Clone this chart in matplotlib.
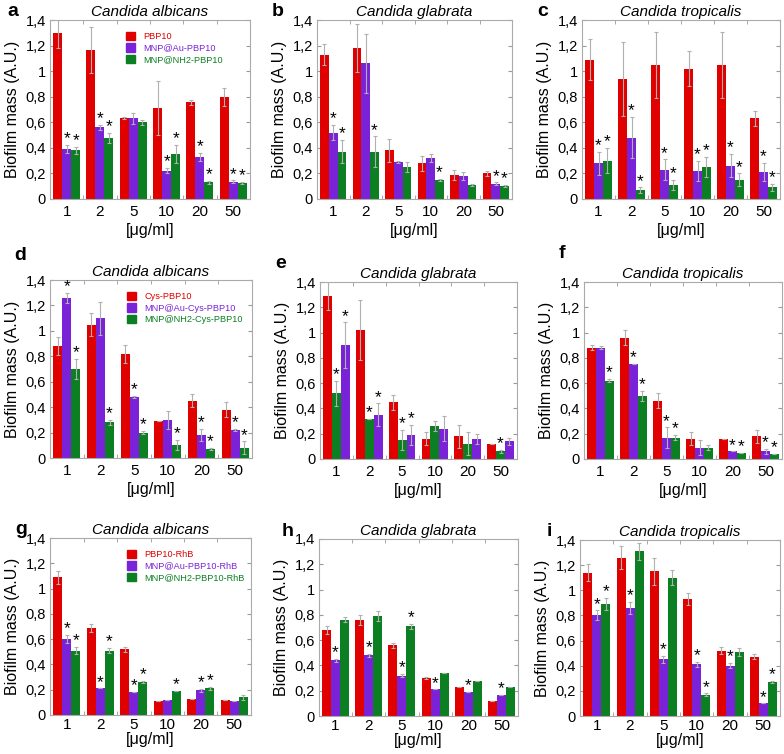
import numpy as np
import matplotlib
matplotlib.use("Agg")
import matplotlib.pyplot as plt
from matplotlib.patches import Patch

plt.rcParams['font.family'] = ['Liberation Sans', 'DejaVu Sans']

conc = ['1', '2', '5', '10', '20', '50']
yticks_lbl = ['0', '0,2', '0,4', '0,6', '0,8', '1', '1,2', '1,4']

RED = '#e00000'
PUR = '#7a22d8'
GRN = '#0b7f22'

# --- panel a: C. albicans, PBP10
a_red = [1.30, 1.165, 0.635, 0.71, 0.755, 0.80]
a_red_err = [0.12, 0.18, 0.01, 0.21, 0.02, 0.07]
a_pur = [0.39, 0.56, 0.63, 0.22, 0.33, 0.135]
a_pur_err = [0.03, 0.02, 0.04, 0.02, 0.03, 0.01]
a_grn = [0.38, 0.48, 0.60, 0.35, 0.13, 0.125]
a_grn_err = [0.03, 0.04, 0.02, 0.07, 0.01, 0.01]
a_pur_star = [1, 1, 0, 1, 1, 1]
a_grn_star = [1, 1, 0, 1, 1, 1]

# --- panel b: C. glabrata, PBP10
b_red = [1.13, 1.18, 0.38, 0.28, 0.19, 0.20]
b_red_err = [0.08, 0.19, 0.09, 0.06, 0.04, 0.02]
b_pur = [0.52, 1.06, 0.29, 0.32, 0.18, 0.12]
b_pur_err = [0.06, 0.23, 0.01, 0.03, 0.03, 0.01]
b_grn = [0.37, 0.37, 0.25, 0.15, 0.11, 0.10]
b_grn_err = [0.09, 0.12, 0.04, 0.01, 0.01, 0.01]
b_pur_star = [1, 0, 0, 0, 0, 1]
b_grn_star = [1, 1, 0, 1, 0, 1]

# --- panel c: C. tropicalis, PBP10
c_red = [1.09, 0.94, 1.05, 1.02, 1.05, 0.63]
c_red_err = [0.16, 0.29, 0.26, 0.14, 0.26, 0.06]
c_pur = [0.28, 0.48, 0.23, 0.22, 0.26, 0.21]
c_pur_err = [0.09, 0.16, 0.08, 0.08, 0.09, 0.07]
c_grn = [0.30, 0.07, 0.11, 0.25, 0.15, 0.09]
c_grn_err = [0.10, 0.02, 0.04, 0.08, 0.05, 0.03]
c_pur_star = [1, 1, 1, 1, 1, 1]
c_grn_star = [1, 1, 1, 1, 1, 1]

# --- panel d: C. albicans, Cys-PBP10
d_red = [0.88, 1.05, 0.82, 0.29, 0.45, 0.38]
d_red_err = [0.07, 0.09, 0.07, 0.0, 0.05, 0.06]
d_pur = [1.26, 1.10, 0.48, 0.30, 0.18, 0.22]
d_pur_err = [0.04, 0.13, 0.01, 0.07, 0.05, 0.01]
d_grn = [0.70, 0.28, 0.20, 0.10, 0.07, 0.08]
d_grn_err = [0.08, 0.02, 0.01, 0.04, 0.01, 0.05]
d_pur_star = [1, 0, 1, 0, 1, 1]
d_grn_star = [1, 1, 1, 1, 1, 1]

# --- panel e: C. glabrata, Cys-PBP10 (green drawn before purple)
e_red = [1.29, 1.02, 0.45, 0.16, 0.18, 0.12]
e_red_err = [0.11, 0.24, 0.06, 0.05, 0.09, 0.0]
e_grn = [0.52, 0.32, 0.15, 0.26, 0.12, 0.06]
e_grn_err = [0.10, 0.0, 0.08, 0.04, 0.09, 0.01]
e_pur = [0.90, 0.35, 0.19, 0.24, 0.16, 0.14]
e_pur_err = [0.18, 0.09, 0.08, 0.10, 0.04, 0.03]
e_grn_star = [1, 1, 1, 0, 0, 1]
e_pur_star = [1, 1, 1, 0, 0, 0]

# --- panel f: C. tropicalis, Cys-PBP10
f_red = [0.88, 0.96, 0.46, 0.16, 0.16, 0.18]
f_red_err = [0.02, 0.06, 0.06, 0.05, 0.0, 0.05]
f_pur = [0.88, 0.75, 0.17, 0.09, 0.06, 0.06]
f_pur_err = [0.01, 0.0, 0.08, 0.06, 0.0, 0.02]
f_grn = [0.62, 0.50, 0.17, 0.09, 0.05, 0.04]
f_grn_err = [0.01, 0.04, 0.02, 0.02, 0.0, 0.0]
f_pur_star = [0, 1, 1, 0, 1, 1]
f_grn_star = [1, 1, 1, 0, 1, 1]

# --- panel g: C. albicans, PBP10-RhB
g_red = [1.09, 0.69, 0.52, 0.11, 0.125, 0.12]
g_red_err = [0.05, 0.03, 0.02, 0.0, 0.0, 0.0]
g_pur = [0.60, 0.21, 0.18, 0.12, 0.195, 0.11]
g_pur_err = [0.03, 0.0, 0.0, 0.0, 0.01, 0.0]
g_grn = [0.51, 0.51, 0.26, 0.19, 0.21, 0.14]
g_grn_err = [0.03, 0.02, 0.01, 0.0, 0.01, 0.02]
g_pur_star = [1, 1, 1, 0, 1, 0]
g_grn_star = [1, 1, 1, 1, 1, 0]

# --- panel h: C. glabrata, PBP10-RhB
h_red = [0.68, 0.76, 0.56, 0.30, 0.23, 0.12]
h_red_err = [0.03, 0.04, 0.02, 0.01, 0.0, 0.0]
h_pur = [0.44, 0.48, 0.32, 0.21, 0.19, 0.17]
h_pur_err = [0.01, 0.01, 0.01, 0.0, 0.0, 0.0]
h_grn = [0.76, 0.79, 0.71, 0.34, 0.28, 0.23]
h_grn_err = [0.02, 0.04, 0.02, 0.0, 0.0, 0.0]
h_pur_star = [1, 1, 1, 1, 1, 1]
h_grn_star = [0, 0, 1, 0, 0, 0]

# --- panel i: C. tropicalis, PBP10-RhB
i_red = [1.14, 1.26, 1.15, 0.93, 0.52, 0.47]
i_red_err = [0.07, 0.09, 0.11, 0.05, 0.03, 0.02]
i_pur = [0.80, 0.86, 0.45, 0.41, 0.40, 0.10]
i_pur_err = [0.04, 0.05, 0.03, 0.02, 0.02, 0.0]
i_grn = [0.89, 1.31, 1.10, 0.17, 0.51, 0.27]
i_grn_err = [0.05, 0.07, 0.06, 0.01, 0.03, 0.01]
i_pur_star = [1, 1, 1, 1, 1, 1]
i_grn_star = [1, 0, 0, 1, 0, 1]

no_star = [0] * 6

legend_ad = ['PBP10', 'MNP@Au-PBP10', 'MNP@NH2-PBP10']
legend_d = ['Cys-PBP10', 'MNP@Au-Cys-PBP10', 'MNP@NH2-Cys-PBP10']
legend_g = ['PBP10-RhB', 'MNP@Au-PBP10-RhB', 'MNP@NH2-PBP10-RhB']

W, H = 784, 754
fig = plt.figure(figsize=(W / 100, H / 100), dpi=100)


def px_axes(l, t, r, b):
    return fig.add_axes([l / W, 1 - b / H, (r - l) / W, (b - t) / H])


def draw(ax, series, title, tight=False):
    x = np.arange(len(conc))
    bw = 0.27
    for k, (vals, errs, stars, col) in enumerate(series):
        xs = x + (k - 1) * bw
        ax.bar(xs, vals, bw, color=col, zorder=2)
        ax.errorbar(xs, vals, yerr=errs, fmt='none', ecolor='#b0b0b0',
                    elinewidth=0.8, capsize=1.5, capthick=0.8, zorder=3)
        for xx, v, e, s in zip(xs, vals, errs, stars):
            if s:
                ax.text(xx, v + e - 0.01, '*', ha='center', va='bottom',
                        fontsize=12.5, zorder=4)
    ax.set_xlim(-0.5, 5.5)
    ax.set_ylim(0, 1.4)
    ax.set_yticks(np.arange(0, 1.41, 0.2))
    ax.set_yticklabels(yticks_lbl)
    ax.set_xticks(x)
    ax.set_xticklabels(conc)
    ax.set_xticks(x[:-1] + 0.5, minor=True)
    ax.tick_params(axis='x', which='major', length=0, labelsize=11,
                   pad=2 if tight else 4)
    ax.tick_params(axis='x', which='minor', direction='in', length=3,
                   color='#999999', top=True, bottom=True)
    ax.tick_params(axis='y', direction='in', length=3, color='#999999',
                   labelsize=10.5, right=True, pad=3)
    for sp in ax.spines.values():
        sp.set_color('#aaaaaa')
        sp.set_linewidth(0.8)
    ax.set_title(title, style='italic', fontsize=11, pad=3)
    ax.set_ylabel('Biofilm mass (A.U.)', fontsize=11.5, labelpad=4)
    ax.set_xlabel('[μg/ml]', fontsize=11.5, labelpad=0 if tight else 3)


def add_legend(ax, labels):
    handles = [Patch(color=c) for c in (RED, PUR, GRN)]
    leg = ax.legend(handles, labels, loc='upper left',
                    bbox_to_anchor=(0.34, 0.98), frameon=False, fontsize=6.6,
                    handlelength=1.0, handleheight=1.0, handletextpad=0.9,
                    labelspacing=0.25)
    for t, c in zip(leg.get_texts(), (RED, PUR, GRN)):
        t.set_color(c)


rects = {
    'a': (50, 20, 250, 199), 'b': (317, 20, 512, 199), 'c': (582, 20, 780, 199),
    'd': (50, 280, 252, 458), 'e': (320, 282, 517, 459), 'f': (584, 282, 782, 459),
    'g': (50, 538, 251, 715), 'h': (319, 539, 518, 716), 'i': (580, 540, 780, 716),
}
letters = {
    'a': (7, 12), 'b': (272, 12), 'c': (537, 12),
    'd': (14, 255), 'e': (275, 264), 'f': (559, 253),
    'g': (15, 530), 'h': (282, 531), 'i': (547, 531),
}

panels = {
    'a': ([(a_red, a_red_err, no_star, RED), (a_pur, a_pur_err, a_pur_star, PUR),
           (a_grn, a_grn_err, a_grn_star, GRN)], 'Candida albicans'),
    'b': ([(b_red, b_red_err, no_star, RED), (b_pur, b_pur_err, b_pur_star, PUR),
           (b_grn, b_grn_err, b_grn_star, GRN)], 'Candida glabrata'),
    'c': ([(c_red, c_red_err, no_star, RED), (c_pur, c_pur_err, c_pur_star, PUR),
           (c_grn, c_grn_err, c_grn_star, GRN)], 'Candida tropicalis'),
    'd': ([(d_red, d_red_err, no_star, RED), (d_pur, d_pur_err, d_pur_star, PUR),
           (d_grn, d_grn_err, d_grn_star, GRN)], 'Candida albicans'),
    'e': ([(e_red, e_red_err, no_star, RED), (e_grn, e_grn_err, e_grn_star, GRN),
           (e_pur, e_pur_err, e_pur_star, PUR)], 'Candida glabrata'),
    'f': ([(f_red, f_red_err, no_star, RED), (f_pur, f_pur_err, f_pur_star, PUR),
           (f_grn, f_grn_err, f_grn_star, GRN)], 'Candida tropicalis'),
    'g': ([(g_red, g_red_err, no_star, RED), (g_pur, g_pur_err, g_pur_star, PUR),
           (g_grn, g_grn_err, g_grn_star, GRN)], 'Candida albicans'),
    'h': ([(h_red, h_red_err, no_star, RED), (h_pur, h_pur_err, h_pur_star, PUR),
           (h_grn, h_grn_err, h_grn_star, GRN)], 'Candida glabrata'),
    'i': ([(i_red, i_red_err, no_star, RED), (i_pur, i_pur_err, i_pur_star, PUR),
           (i_grn, i_grn_err, i_grn_star, GRN)], 'Candida tropicalis'),
}

axes = {}
for key, (series, title) in panels.items():
    ax = px_axes(*rects[key])
    draw(ax, series, title, tight=key in 'ghi')
    axes[key] = ax
    lx, ly = letters[key]
    fig.text(lx / W, 1 - ly / H, key, fontsize=14, fontweight='bold',
             ha='left', va='center')

add_legend(axes['a'], legend_ad)
add_legend(axes['d'], legend_d)
add_legend(axes['g'], legend_g)

fig.savefig('out.png', dpi=100)
